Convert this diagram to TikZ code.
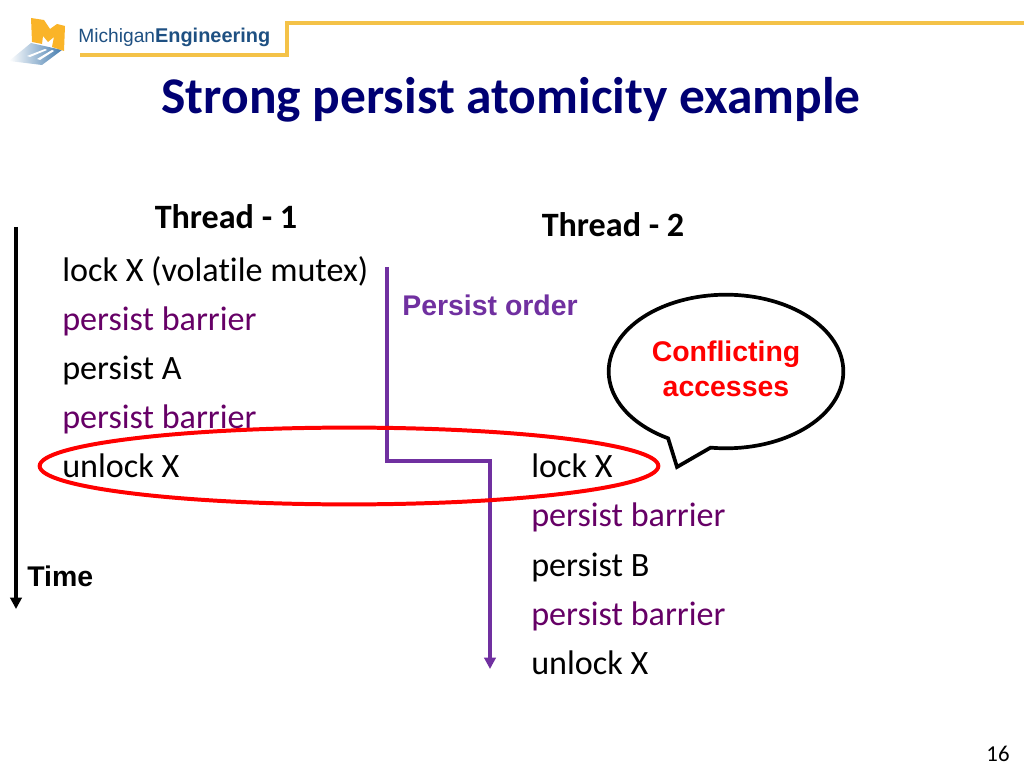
\documentclass[tikz,border=0pt]{standalone}
\usepackage{xcolor}
\usepackage{fontspec}
\setmainfont{Carlito}[Ligatures=CommonOff]
\newfontfamily\arialfont{Liberation Sans}
\usetikzlibrary{shapes.geometric,shapes.callouts,arrows.meta}
\definecolor{titleblue}{RGB}{0,0,115}
\definecolor{barrierpurple}{RGB}{102,0,102}
\definecolor{orderpurple}{RGB}{112,48,160}
\definecolor{mgold}{RGB}{244,194,72}
\definecolor{mmaize}{RGB}{250,180,40}
\definecolor{mblue}{RGB}{30,80,130}
\definecolor{mshadow}{RGB}{70,125,175}
\tikzset{
  codeline/.style={anchor=west, inner sep=0pt, text height=19pt, text depth=2.4pt, font=\fontsize{24}{29}\selectfont},
  barrier/.style={codeline, text=barrierpurple},
  threadhead/.style={anchor=center, inner sep=0pt, font=\fontsize{24}{29}\selectfont\bfseries},
  goldline/.style={draw=mgold, line width=2.2pt},
  orderline/.style={draw=orderpurple, line width=2.6pt}
}
\begin{document}
\begin{tikzpicture}[x=0.703125pt, y=-0.703125pt]
\useasboundingbox (0,0) rectangle (1024,768);
% logo
\shade[left color=white, right color=mshadow] (9,61) -- (31,43) -- (62,50) -- (42,65) -- cycle;
\fill[white] (27,56) -- (45,49) -- (47,50) -- (30,57) -- cycle;
\fill[white] (37,59) -- (52,50) -- (54,51) -- (40,60) -- cycle;
\fill[mmaize] (31,18) -- (44,20) -- (50,29) -- (57,24) -- (65,26) -- (64,51) -- (52,47) -- (54,37) -- (48,42) -- (43,36) -- (42,44) -- (32,42) -- cycle;
\node[anchor=west, inner sep=0pt, text=mblue, font=\arialfont\fontsize{13.5}{16}\selectfont] (logotext) at (78,37) {Michigan{\fontsize{14}{16}\selectfont\bfseries Engineering}};
\coordinate (goldstart) at (80,55);
\coordinate (goldend) at (1024,23);
\draw[goldline] (goldstart) -- (287,55) -- (287,23) -- (goldend);
% title
\node[text=titleblue, inner sep=0pt, font=\fontsize{36.2}{43}\selectfont\bfseries] (title) at (511,100) {Strong persist atomicity example};
% thread 1
\node[threadhead] (head1) at (226,217) {Thread - 1};
\node[codeline] (lock1) at (62,270) {lock X (volatile mutex)};
\node[barrier] (pb1) at (62,319) {persist barrier};
\node[codeline] (persistA) at (62,368) {persist A};
\node[barrier] (pb2) at (62,417) {persist barrier};
\node[codeline] (unlock1) at (62,466) {unlock X};
% thread 2
\node[threadhead] (head2) at (613,225) {Thread - 2};
\node[codeline] (lock2) at (531,466) {lock X};
\node[barrier] (pb3) at (531,515) {persist barrier};
\node[codeline] (persistB) at (531,565) {persist B};
\node[barrier] (pb4) at (531,614) {persist barrier};
\node[codeline] (unlock2) at (531,663) {unlock X};
% time arrow
\coordinate (timetop) at (16,227);
\coordinate (timeend) at (16,609);
\draw[line width=2.6pt, -{Triangle[length=8pt,width=8pt]}] (timetop) -- (timeend);
\node[anchor=west, inner sep=0pt, font=\arialfont\fontsize{20}{24}\selectfont\bfseries] (time) at (27,576) {Time};
% persist order
\coordinate (ordertop) at (387,267);
\coordinate (orderend) at (490,669);
\draw[orderline, -{Triangle[length=8pt,width=8pt]}] (ordertop) |- (490,461) -- (orderend);
\node[anchor=west, inner sep=0pt, text=orderpurple, font=\arialfont\fontsize{20}{24}\selectfont\bfseries] (ordertext) at (402,305) {Persist order};
% conflict
\node[ellipse, draw=red, line width=2.8pt, minimum width=435pt, minimum height=54pt, inner sep=0pt] (conflict) at (349,466) {};
\node[ellipse callout, draw=black, fill=white, line width=2.6pt, minimum width=165pt, minimum height=108pt, inner sep=0pt,
  callout absolute pointer={(677,467)}, callout pointer arc=22, align=center, text=red,
  font=\arialfont\fontsize{20}{24.6}\selectfont\bfseries] (bubble) at (726,371.5) {Conflicting\\accesses\\[-20pt]};
% page number
\node[inner sep=0pt, font=\fontsize{16}{19}\selectfont] (pagenum) at (998,754) {16};
\end{tikzpicture}
\end{document}
